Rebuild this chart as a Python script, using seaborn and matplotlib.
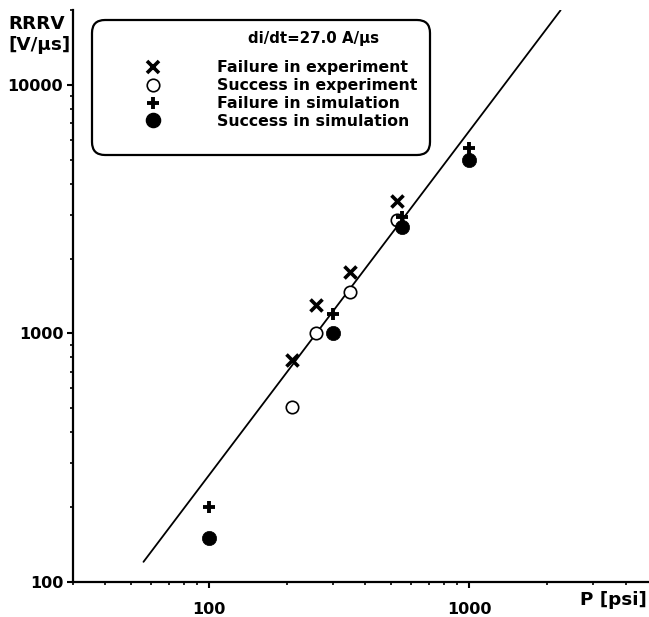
import matplotlib
matplotlib.use("Agg")
import matplotlib.pyplot as plt
from matplotlib.lines import Line2D
from matplotlib.patches import FancyBboxPatch
from matplotlib.ticker import LogLocator, NullFormatter, FixedFormatter, FixedLocator
import seaborn as sns

# Measured points: P [psi] vs RRRV [V/us]
failure_exp_p = [208, 258, 350, 530]
failure_exp_rrrv = [780, 1300, 1770, 3400]
success_exp_p = [208, 258, 350, 530]
success_exp_rrrv = [505, 1000, 1460, 2860]
failure_sim_p = [100, 300, 555, 1000]
failure_sim_rrrv = [200, 1200, 2950, 5600]
success_sim_p = [100, 300, 555, 1000]
success_sim_rrrv = [150, 1000, 2670, 5000]

# Boundary line endpoints
boundary_p = [56, 2250]
boundary_rrrv = [120, 20000]

x_ticks = [100, 1000]
y_ticks = [100, 1000, 10000]

sns.set_theme(style="ticks")
plt.rcParams["font.family"] = ["DejaVu Sans"]
plt.rcParams["font.weight"] = "bold"
plt.rcParams["text.color"] = "black"

W, H = 649, 617
fig = plt.figure(figsize=(W / 100, H / 100), dpi=100)
ax = fig.add_axes([73 / W, 35.5 / H, 576 / W, 571.2 / H])

sns.lineplot(x=boundary_p, y=boundary_rrrv, ax=ax, color="black", linewidth=1.3)
sns.scatterplot(x=failure_exp_p, y=failure_exp_rrrv, ax=ax, marker="x", s=75,
                color="black", linewidth=2.6, zorder=3)
sns.scatterplot(x=success_exp_p, y=success_exp_rrrv, ax=ax, marker="o", s=80,
                facecolor="white", edgecolor="black", linewidth=1.2, zorder=3)
sns.scatterplot(x=failure_sim_p, y=failure_sim_rrrv, ax=ax, marker="+", s=80,
                color="black", linewidth=2.8, zorder=3)
sns.scatterplot(x=success_sim_p, y=success_sim_rrrv, ax=ax, marker="o", s=105,
                color="black", edgecolor="black", linewidth=0.5, zorder=3)

ax.set_xscale("log")
ax.set_yscale("log")
ax.set_xlim(30, 4925)
ax.set_ylim(100, 20000)

ax.xaxis.set_major_locator(FixedLocator(x_ticks))
ax.xaxis.set_major_formatter(FixedFormatter([str(v) for v in x_ticks]))
ax.yaxis.set_major_locator(FixedLocator(y_ticks))
ax.yaxis.set_major_formatter(FixedFormatter([str(v) for v in y_ticks]))
for axis in (ax.xaxis, ax.yaxis):
    axis.set_minor_locator(LogLocator(base=10, subs=range(2, 10), numticks=20))
    axis.set_minor_formatter(NullFormatter())

sns.despine(ax=ax)
for side in ("left", "bottom"):
    ax.spines[side].set_linewidth(1.6)
    ax.spines[side].set_color("black")

ax.tick_params(which="major", direction="out", length=4.5, width=1.5,
               color="black", labelsize=11.5, labelcolor="black")
ax.tick_params(which="minor", direction="out", length=2.5, width=1.2, color="black")
ax.tick_params(axis="x", which="major", pad=10)
ax.tick_params(axis="y", which="major", pad=2.5)
ax.set_xlabel("")
ax.set_ylabel("")
ax.grid(False)

# Axis titles
fig.text(8 / W, 1 - 15 / H, "RRRV\n[V/\u03bcs]", ha="left", va="top",
         fontsize=13.2, fontweight="bold", linespacing=1.25, color="black")
fig.text(647 / W, 1 - 600 / H, "P [psi]", ha="right", va="center",
         fontsize=13.2, fontweight="bold", color="black")

# Legend with rounded frame
frame = FancyBboxPatch((92, H - 155), 338, 135,
                       boxstyle="round,pad=0,rounding_size=13",
                       transform=None, facecolor="white", edgecolor="black",
                       linewidth=1.6, zorder=5)
fig.patches.append(frame)

handles = [
    Line2D([], [], linestyle="none", marker="x", markersize=8.7, color="black",
           markeredgewidth=2.6),
    Line2D([], [], linestyle="none", marker="o", markersize=9, markerfacecolor="white",
           markeredgecolor="black", markeredgewidth=1.2),
    Line2D([], [], linestyle="none", marker="+", markersize=9, color="black",
           markeredgewidth=2.8),
    Line2D([], [], linestyle="none", marker="o", markersize=10.2, color="black"),
]
labels = ["Failure in experiment", "Success in experiment",
          "Failure in simulation", "Success in simulation"]
leg = fig.legend(handles, labels, loc="upper left",
                 bbox_to_anchor=(129.5 / W, 1 - 52.5 / H), frameon=False,
                 borderpad=0, handlelength=2.0, handletextpad=3.05,
                 labelspacing=0.18, prop={"size": 11.3, "weight": "bold"})
leg.set_zorder(6)
for t in leg.get_texts():
    t.set_color("black")

fig.text(248 / W, 1 - 39 / H, "di/dt=27.0 A/\u03bcs", ha="left", va="center",
         fontsize=10.8, fontweight="bold", color="black", zorder=6)

fig.savefig("out.png", dpi=100)
